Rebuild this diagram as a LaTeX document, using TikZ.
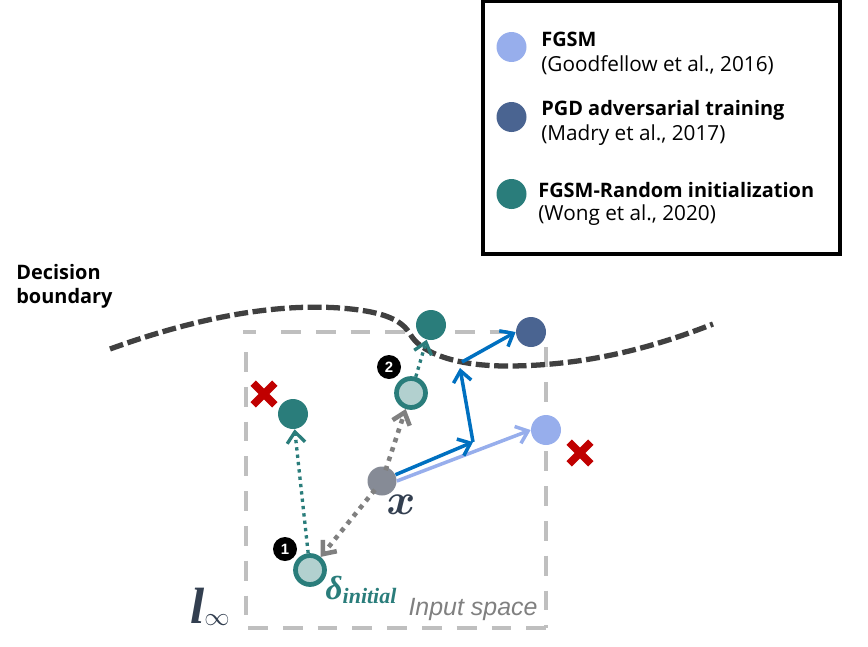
\documentclass[tikz,border=0pt]{standalone}
\usepackage{amsmath, amssymb}
\usepackage{fontspec}
\setmainfont{Open Sans}
\newfontfamily\arialfont{Liberation Sans}
\newfontfamily\symbolfont{Liberation Serif}
\usepackage{tikz}
\usetikzlibrary{shapes.misc,arrows.meta}
\definecolor{fgsmblue}{HTML}{97AEEC}
\definecolor{pgdblue}{HTML}{4A6491}
\definecolor{teal}{HTML}{2A7D7B}
\definecolor{ringfill}{HTML}{B2D0CF}
\definecolor{inputgray}{HTML}{868B96}
\definecolor{stepblue}{HTML}{0070C0}
\definecolor{inkdark}{HTML}{333F50}
\definecolor{crossred}{HTML}{C00000}
\tikzstyle{line} = [draw, line width=2pt, -{Straight Barb[length=2.2mm,width=3.6mm]}]
\tikzstyle{dotline} = [line, line width=1.9pt, dash pattern=on 1.9pt off 2.3pt]
\tikzstyle{graydots} = [line, gray, line width=2.6pt, dash pattern=on 2.6pt off 3pt, shorten <=-2pt]
\tikzstyle{dot} = [circle, inner sep=0pt, minimum size=6mm]
\tikzstyle{ring} = [circle, inner sep=0pt, minimum size=5.8mm, draw=teal, fill=ringfill, line width=2.7pt]
\tikzstyle{badge} = [circle, inner sep=0pt, minimum size=4.8mm, fill=black, text=white, font=\arialfont\fontsize{8.5pt}{10pt}\selectfont\bfseries]
\tikzstyle{miss} = [cross out, draw=crossred, line width=4.4pt, inner sep=0pt, minimum size=2.8mm]
\tikzstyle{legend} = [anchor=west, inner sep=0pt, font=\fontsize{11.8pt}{12pt}\selectfont]
\tikzstyle{legendhead} = [legend, font=\fontsize{11.35pt}{12pt}\selectfont\bfseries]

\begin{document}
\begin{tikzpicture}[x=0.02cm, y=-0.02cm]
			\useasboundingbox (0,0) rectangle (868,646);
			\draw [black, line width=2pt] (483,1.5) rectangle (840,254);
			\draw [black!25, line width=2.8pt, dash pattern=on 11.3pt off 8.5pt] (243,332) -- (256,332) (281,332) -- (508,332) (246,352) -- (246,628) (248,628) -- (548,628) (546,347) -- (546,628);
			\draw [black!75, line width=3pt, dash pattern=on 7.9pt off 2.6pt] (110,349) .. controls (190,320) and (270,303) .. (340,308) .. controls (395,312) and (405,325) .. (412,337) .. controls (425,355) and (460,366) .. (507,366) .. controls (590,366) and (660,345) .. (713,324);
			\node [dot, fill=fgsmblue] (fgsmkey) at (511.5,47) {};
			\node [dot, fill=pgdblue] (pgdkey) at (511.5,117) {};
			\node [dot, fill=teal] (randkey) at (511.5,194) {};
			\node [legendhead] (fgsmname) at (541,39.5) {FGSM};
			\node [legend] (fgsmcite) at (541,65) {(Goodfellow et al., 2016)};
			\node [legendhead] (pgdname) at (541,110) {PGD adversarial training};
			\node [legend] (pgdcite) at (541,135) {(Madry et al., 2017)};
			\node [legendhead] (randname) at (538,190) {FGSM-Random initialization};
			\node [legend] (randcite) at (538,215.5) {(Wong et al., 2020)};
			\node [legendhead, align=left] (boundary) at (16,286) {Decision\\[1.5pt]boundary};
			\node [dot, fill=inputgray, minimum size=5.8mm] (x) at (382,481) {};
			\node [dot, fill=teal] (randfar) at (293,414) {};
			\node [dot, fill=teal] (randtop) at (431,325) {};
			\node [dot, fill=pgdblue] (pgd) at (531,332) {};
			\node [dot, fill=fgsmblue] (fgsm) at (546,430) {};
			\node [ring] (start) at (310,570) {};
			\node [ring] (second) at (411,393) {};
			\node [badge] (one) at (285,549) {1};
			\node [badge] (two) at (389,367) {2};
			\node [miss] (missleft) at (264,394) {};
			\node [miss] (missright) at (580,453) {};
			\node [text=inkdark, inner sep=0pt] (xlabel) at (401,505) {\fontsize{24pt}{26pt}\selectfont$\boldsymbol{x}$};
			\node [text=teal, inner sep=0pt] (deltalabel) at (361,590) {\symbolfont\bfseries\itshape\fontsize{19pt}{20pt}\selectfont δ\raisebox{-2.5pt}{\fontsize{12.5pt}{14pt}\selectfont initial}};
			\node [text=inkdark, inner sep=0pt] (linf) at (210,607) {\symbolfont\bfseries\itshape\fontsize{29pt}{30pt}\selectfont l\raisebox{-1pt}{\fontsize{14pt}{15pt}\selectfont$\infty$}};
			\node [text=gray, inner sep=0pt] (space) at (473,609) {\arialfont\fontsize{14.2pt}{16pt}\selectfont\itshape Input space};
			\coordinate (turnone) at (473,442);
			\coordinate (turntwo) at (460,368);
			\coordinate (turnthree) at (462,362);
			\path [dotline, teal] (start) -- (randfar);
			\path [dotline, teal] (second) -- (randtop);
			\path [graydots] (x) -- (start);
			\path [graydots] (x) -- (second);
			\path [line, fgsmblue] (x.east) -- (fgsm.west);
			\path [line, stepblue] (x.25) -- (turnone);
			\path [line, stepblue] (turnone) -- (turntwo);
			\path [line, stepblue] (turnthree) -- (pgd.west);
\end{tikzpicture}
\end{document}
